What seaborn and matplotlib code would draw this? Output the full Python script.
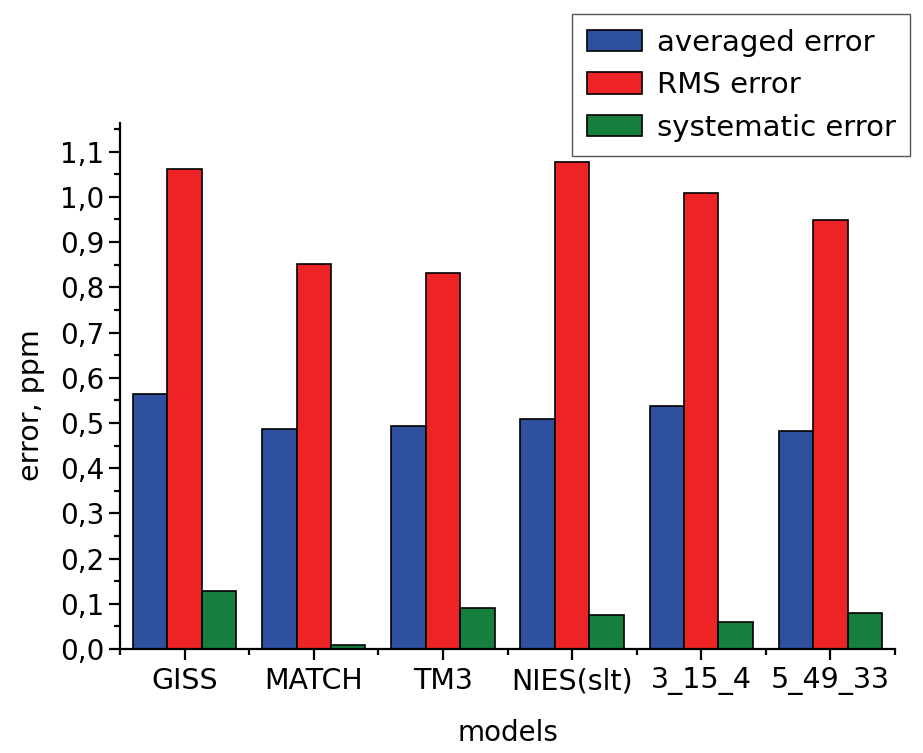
import pandas as pd
import matplotlib.pyplot as plt
import seaborn as sns
from matplotlib.ticker import MultipleLocator, FuncFormatter, FixedLocator

# Values
models = ["GISS", "MATCH", "TM3", "NIES(slt)", "3_15_4", "5_49_33"]
averaged_error = [0.565, 0.487, 0.494, 0.508, 0.538, 0.483]
rms_error = [1.061, 0.851, 0.832, 1.078, 1.008, 0.948]
systematic_error = [0.128, 0.009, 0.091, 0.075, 0.060, 0.080]
series_names = ["averaged error", "RMS error", "systematic error"]
colors = ["#2f4f9f", "#ee2325", "#167f3e"]

# long-form table for seaborn
df = pd.DataFrame({
    "model": models * 3,
    "error": averaged_error + rms_error + systematic_error,
    "type": [s for s in series_names for _ in models],
})

sns.set_style("ticks")
plt.rcParams["font.family"] = ["DejaVu Sans"]
plt.rcParams["text.color"] = "black"
plt.rcParams["axes.labelcolor"] = "black"

fig = plt.figure(figsize=(9.23, 7.53), dpi=100)
ax = fig.add_axes([0.130, 0.138, 0.8397, 0.6985])

sns.barplot(data=df, x="model", y="error", hue="type", order=models,
            hue_order=series_names, palette=colors, saturation=1,
            edgecolor="black", linewidth=1.2, width=0.8, ax=ax)

ax.set_xlim(-0.5, len(models) - 0.5)
ax.set_ylim(0, 1.163)
ax.yaxis.set_major_locator(MultipleLocator(0.1))
ax.yaxis.set_minor_locator(MultipleLocator(0.05))
ax.yaxis.set_major_formatter(FuncFormatter(lambda v, p: f"{v:.1f}".replace(".", ",")))
ax.xaxis.set_minor_locator(FixedLocator([i - 0.5 for i in range(len(models) + 1)]))

ax.tick_params(axis="both", which="major", length=8, width=1.6, labelsize=20,
               color="black", labelcolor="black", direction="out")
ax.tick_params(axis="x", which="major", labelsize=20.5, pad=5)
ax.tick_params(axis="both", which="minor", length=4, width=1.6, direction="out",
               color="black")

for side in ["top", "right"]:
    ax.spines[side].set_visible(False)
for side in ["left", "bottom"]:
    ax.spines[side].set_linewidth(1.6)
    ax.spines[side].set_color("black")

ax.set_xlabel("models", fontsize=20, labelpad=17)
ax.set_ylabel("error, ppm", fontsize=20.5)
ax.yaxis.set_label_coords(-0.097, 0.464)

ax.get_legend().remove()
handles = [plt.Rectangle((0, 0), 1, 1, facecolor=c, edgecolor="black", linewidth=1.2)
           for c in colors]
fig.legend(handles, series_names, loc="upper left",
           bbox_to_anchor=(572 / 923, 1 - 14 / 753), fontsize=21,
           frameon=True, fancybox=False, edgecolor="#555555", framealpha=1,
           handlelength=1.9, handleheight=0.75, handletextpad=0.5,
           borderpad=0.5, labelspacing=0.5, borderaxespad=0)

fig.savefig("out.png", dpi=100)
